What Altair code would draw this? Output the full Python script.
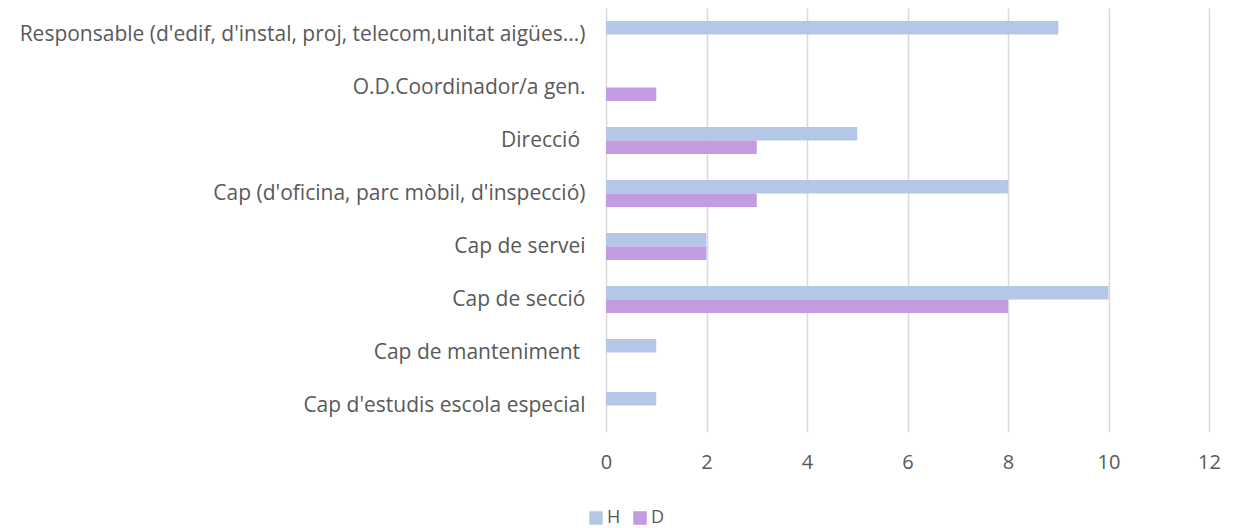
import altair as alt
import pandas as pd

categories = [
    "Responsable (d'edif, d'instal, proj, telecom,unitat aigües...)",
    "O.D.Coordinador/a gen.",
    "Direcció\u00a0\u200b",
    "Cap (d'oficina, parc mòbil, d'inspecció)",
    "Cap de servei",
    "Cap de secció",
    "Cap de manteniment\u00a0\u200b",
    "Cap d'estudis escola especial",
]
h_values = [9, 0, 5, 8, 2, 10, 1, 1]
d_values = [0, 1, 3, 3, 2, 8, 0, 0]
series = ["H", "D"]
colors = ["#b4c7e7", "#c39be0"]

rows = []
for c, h, d in zip(categories, h_values, d_values):
    rows.append({"cat": c, "serie": "H", "val": h})
    rows.append({"cat": c, "serie": "D", "val": d})
df = pd.DataFrame(rows)

FONT = "Open Sans"
TXT = "#595959"

chart = alt.Chart(df).mark_bar().encode(
    y=alt.Y("cat:N", sort=categories, title=None,
            scale=alt.Scale(paddingInner=0.49, paddingOuter=0.245),
            axis=alt.Axis(domain=False, ticks=False, labelPadding=21,
                          labelFontSize=21, labelFont=FONT, labelColor=TXT,
                          labelLimit=700)),
    yOffset=alt.YOffset("serie:N", sort=series),
    x=alt.X("val:Q", title=None, scale=alt.Scale(domain=[0, 12]),
            axis=alt.Axis(values=[0, 2, 4, 6, 8, 10, 12], domain=False, ticks=False,
                          grid=True, gridColor="#d9d9d9", gridWidth=1.5,
                          labelFlush=False,
                          labelPadding=20, labelFontSize=20, labelFont=FONT,
                          labelColor=TXT)),
    color=alt.Color("serie:N", sort=series,
                    scale=alt.Scale(domain=series, range=colors),
                    legend=alt.Legend(title=None, orient="none", direction="horizontal",
                                      legendX=-19, legendY=501, symbolType="square",
                                      symbolSize=182, symbolStrokeWidth=0,
                                      labelFont=FONT, labelFontSize=18, labelColor=TXT,
                                      columnPadding=10, labelOffset=2)),
).properties(
    width=603, height=424,
    autosize=alt.AutoSizeParams(type="none"),
    padding={"left": 598, "top": 0, "right": 18, "bottom": 96},
).configure(background="white").configure_view(stroke=None)

chart.save("out.html", embed_options={"renderer": "svg", "actions": False})
